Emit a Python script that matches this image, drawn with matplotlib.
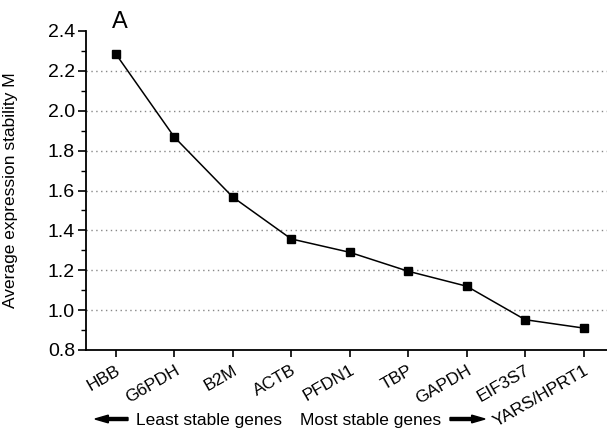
import numpy as np
import matplotlib.pyplot as plt
from matplotlib.ticker import MultipleLocator
from matplotlib.patches import FancyArrow
from matplotlib.transforms import ScaledTranslation

# gene ranking (least -> most stable) and geNorm M values
genes = ["HBB", "G6PDH", "B2M", "ACTB", "PFDN1", "TBP", "GAPDH", "EIF3S7", "YARS/HPRT1"]
m_values = [2.285, 1.868, 1.567, 1.357, 1.29, 1.195, 1.12, 0.952, 0.91]
grid_levels = [1.0, 1.2, 1.4, 1.6, 1.8, 2.0, 2.2]

plt.rcParams['font.family'] = ['Liberation Sans', 'DejaVu Sans']

fig = plt.figure(figsize=(6.07, 4.29), dpi=100)
ax = fig.add_axes([86/607, 1 - 350/429, 521/607, 319/429])

x = np.arange(len(genes))
for g in grid_levels:
    ax.axhline(g, color='#888888', linestyle=(0, (1, 2.5)), linewidth=1.0, zorder=0)

ax.plot(x, m_values, color='black', linewidth=1.1, marker='s', markersize=6,
        markerfacecolor='black', zorder=3)

ax.set_xlim(-0.51, 8.4)
ax.set_ylim(0.8, 2.4)
ax.yaxis.set_major_locator(MultipleLocator(0.2))
ax.yaxis.set_minor_locator(MultipleLocator(0.1))
ax.yaxis.set_major_formatter(plt.FuncFormatter(lambda v, p: f"{v:.1f}"))
ax.set_xticks(x)
ax.set_xticklabels(genes, rotation=30, ha='right', rotation_mode='anchor', fontsize=12.5)
shift = ScaledTranslation(6/100, 3/100, fig.dpi_scale_trans)
for lbl in ax.get_xticklabels():
    lbl.set_transform(lbl.get_transform() + shift)
ax.tick_params(axis='y', which='major', length=6, width=1.2, labelsize=14, pad=2)
ax.tick_params(axis='y', which='minor', length=3.5, width=1.0)
ax.tick_params(axis='x', length=5, width=1.2, pad=4)
ax.spines['top'].set_visible(False)
ax.spines['right'].set_visible(False)
ax.spines['left'].set_linewidth(1.3)
ax.spines['bottom'].set_linewidth(1.3)

ax.set_ylabel("Average expression stability M", fontsize=12.5)
ax.yaxis.set_label_coords(-68/521, 0.5)
ax.text(0.07, 2.445, "A", fontsize=17, ha='center', va='center', clip_on=False)

# bottom caption with arrows
fig.text(136/607, 1 - 421/429, "Least stable genes", fontsize=12.5, ha='left', va='center')
fig.text(300/607, 1 - 421/429, "Most stable genes", fontsize=12.5, ha='left', va='center')
fig.patches.append(FancyArrow(
    128/607, 1 - 419/429, -33/607, 0, width=0.007, head_width=0.018, head_length=0.022,
    length_includes_head=True, color='black', transform=fig.transFigure))
fig.patches.append(FancyArrow(
    450/607, 1 - 419/429, 35/607, 0, width=0.007, head_width=0.018, head_length=0.022,
    length_includes_head=True, color='black', transform=fig.transFigure))

fig.savefig("out.png", dpi=100)
